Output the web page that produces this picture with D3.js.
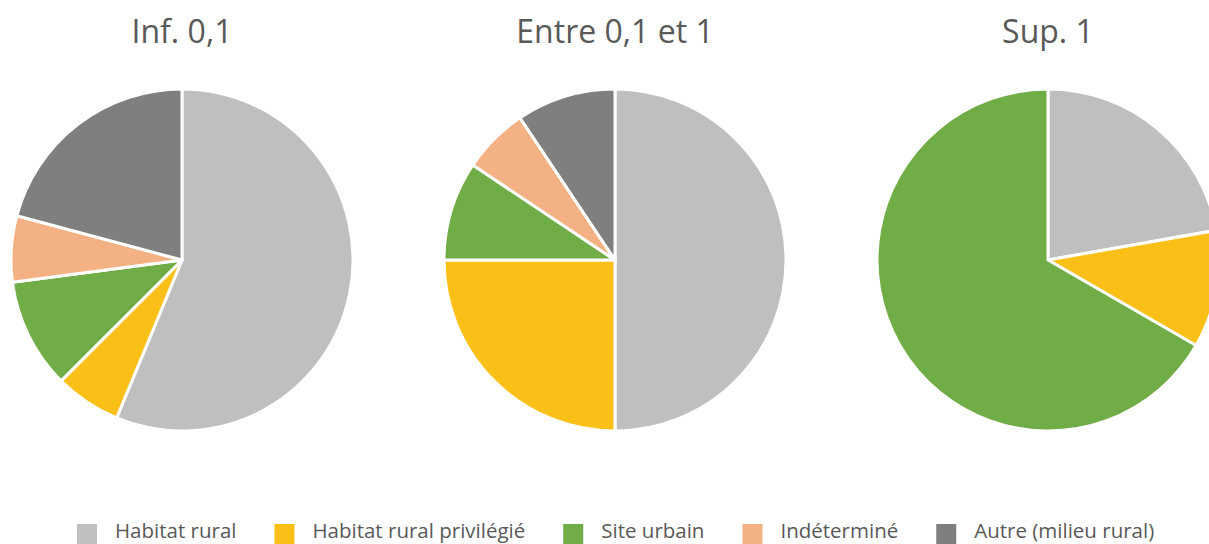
<!DOCTYPE html>
<html>
<head>
<meta charset="utf-8">
<script src="https://cdn.jsdelivr.net/npm/d3@7"></script>
<style>
  html, body { margin: 0; padding: 0; background: #fff; }
  svg { display: block; }
  text { font-family: "Open Sans", Lato, sans-serif; }
</style>
</head>
<body>
<svg id="chart" width="1209" height="544"></svg>
<script>
// Categories (legend order = slice order, clockwise from 12 o'clock)
const categories = ["Habitat rural", "Habitat rural privilégié", "Site urbain", "Indéterminé", "Autre (milieu rural)"];
const colors = ["#BFBFBF", "#FBC018", "#70AD47", "#F4B183", "#7F7F7F"];

// Group titles
const groups = ["Inf. 0,1", "Entre 0,1 et 1", "Sup. 1"];

// Number of sites per category, one array per group
const infValues = [27, 3, 5, 3, 10];
const entreValues = [16, 8, 3, 2, 3];
const supValues = [2, 1, 6, 0, 0];

const series = [infValues, entreValues, supValues];

const width = 1209, height = 544;
const svg = d3.select("#chart");

const x = d3.scalePoint().domain(groups).range([182, 1048]);
const color = d3.scaleOrdinal().domain(categories).range(colors);
const radius = 171;
const cy = 260;

const pie = d3.pie().sort(null).value(d => d.value);
const arc = d3.arc().innerRadius(0).outerRadius(radius);

groups.forEach((g, i) => {
  const data = categories.map((c, j) => ({ cat: c, value: series[i][j] }));
  const gEl = svg.append("g").attr("transform", `translate(${x(g)},${cy})`);
  gEl.selectAll("path")
    .data(pie(data).filter(d => d.data.value > 0))
    .join("path")
    .attr("d", arc)
    .attr("fill", d => color(d.data.cat))
    .attr("stroke", "#fff")
    .attr("stroke-width", 3)
    .attr("stroke-linejoin", "round");

  svg.append("text")
    .attr("x", x(g))
    .attr("y", 43)
    .attr("text-anchor", "middle")
    .attr("fill", "#595959")
    .attr("font-size", 32)
    .text(g);
});

// Legend
const legend = svg.append("g");
const items = legend.selectAll("g").data(categories).join("g");
items.append("rect")
  .attr("width", 20).attr("height", 20)
  .attr("y", -14)
  .attr("fill", d => color(d));
items.append("text")
  .attr("x", 38)
  .attr("y", 0)
  .attr("fill", "#595959")
  .attr("font-size", 20.5)
  .text(d => d);

let offset = 0;
items.each(function () {
  const w = d3.select(this).select("text").node().getComputedTextLength();
  d3.select(this).attr("transform", `translate(${offset},538)`);
  offset += 38 + w + 38;
});
legend.attr("transform", "translate(77,0)");
</script>
</body>
</html>
